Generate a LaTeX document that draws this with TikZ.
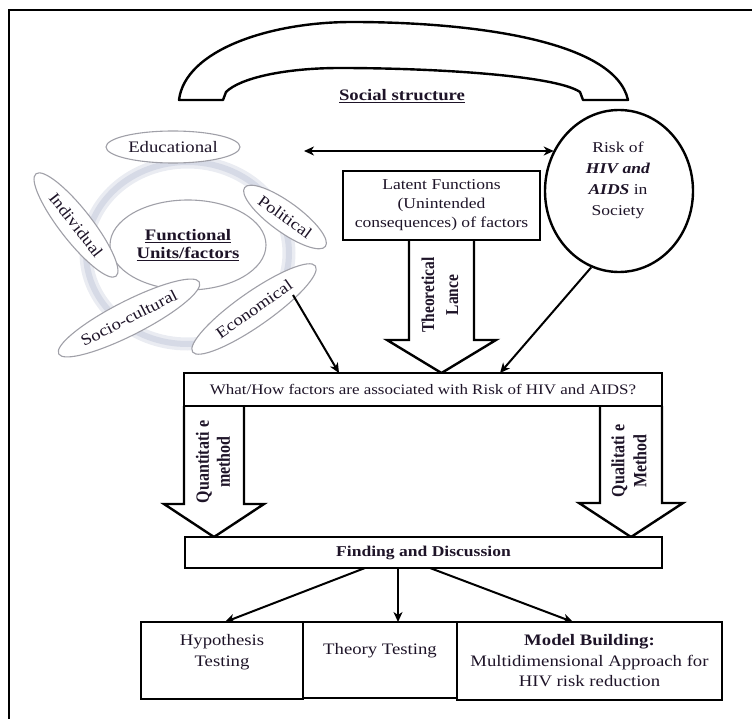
\documentclass[tikz,border=0pt]{standalone}
\usepackage{fontspec}
\setmainfont{Liberation Serif}[FakeStretch=1.17]
\newfontfamily\rotserif{Liberation Serif}
\usetikzlibrary{arrows.meta,shapes.geometric,calc}
\definecolor{ink}{RGB}{30,20,40}
\definecolor{ringblue}{RGB}{214,218,230}
\definecolor{ringhalo}{RGB}{234,236,242}
\definecolor{unitedge}{RGB}{160,160,168}
\pgfdeclarelayer{background}
\pgfsetlayers{background,main}
\newcommand{\tallbold}[1]{\scalebox{1}[1.17]{#1}}
\begin{document}
\begin{tikzpicture}[x=1pt,y=-1pt,
  frame/.style={line width=2.4pt},
  box/.style={draw, line width=2.4pt, fill=white, inner sep=0pt, outer sep=0pt, text=ink, align=center},
  arr/.style={line width=2pt, -{Stealth[length=10pt,width=9pt,inset=3pt]}},
  dblarr/.style={line width=2pt, {Stealth[length=10pt,width=9pt,inset=3pt]}-{Stealth[length=10pt,width=9pt,inset=3pt]}},
  blockarrow/.style={draw, line width=2.4pt, fill=white, line join=miter},
  unit/.style={ellipse, draw=unitedge, line width=1.1pt, fill=white, inner sep=0pt, outer sep=0pt, text=ink, font=\fontsize{16}{18}\selectfont},
  txt/.style={text=ink, inner sep=0pt, align=center},
  vlabel/.style={rotate=90, inner sep=0pt, align=center, text=ink}
]
\useasboundingbox (0,0) rectangle (752,719);

% outer frame
\draw[frame] (9,719) -- (9,10) -- (752,10);

% social structure band
\draw[line width=2.4pt, fill=white, line join=round]
  (179,100) .. controls (185,50) and (270,22) .. (352,22)
  .. controls (470,22) and (615,40) .. (628,100) -- (583,100) -- (580,92)
  .. controls (555,75) and (430,68) .. (340,68)
  .. controls (285,68) and (240,78) .. (226,92) -- (223,100) -- cycle;
\node[text=ink, font=\bfseries\fontsize{16}{18}\selectfont] (social) at (402,96) {\underline{Social structure}};

% ring behind the functional units
\draw[ringhalo, line width=13pt] (187.5,253) ellipse (101.5 and 91);
\draw[ringblue, line width=6pt] (187.5,253) ellipse (101.5 and 91);

% functional units
\node[unit, minimum width=156pt, minimum height=90pt, align=center,
      font=\bfseries\fontsize{16}{18}\selectfont] (core) at (188,245)
      {\underline{Functional}\\\underline{Units/factors}};
\node[unit, minimum width=134pt, minimum height=32pt] (edu) at (173,147) {Educational};
\node[unit, minimum width=130pt, minimum height=32pt, rotate=-52] (indiv) at (76,225) {Individual};
\node[unit, minimum width=100pt, minimum height=30pt, rotate=-36] (pol) at (285,217) {Political};
\node[unit, minimum width=158pt, minimum height=34pt, rotate=27] (socio) at (129,318) {Socio-cultural};
\node[unit, minimum width=150pt, minimum height=34pt, rotate=35] (econ) at (254,309) {Economical};

% risk circle
\node[ellipse, draw, line width=2.4pt, fill=white, minimum width=148pt, minimum height=162pt, inner sep=0pt] (risk) at (619,191) {};
\node[txt, font=\fontsize{15}{21}\selectfont] (risk-t) at (618,180)
  {Risk of\\\textbf{\textit{HIV and}}\\\textbf{\textit{AIDS}} in\\Society};

% boxes
\node[box, minimum width=197pt, minimum height=69pt, font=\fontsize{15}{19}\selectfont] (latent) at (441.5,205.5)
  {Latent Functions\\(Unintended\\consequences) of factors};
\node[box, minimum width=478pt, minimum height=33pt, font=\fontsize{14.5}{17}\selectfont] (what) at (423,389.5)
  {What/How factors are associated with Risk of HIV and AIDS?};
\node[box, minimum width=477pt, minimum height=31pt, font=\bfseries\fontsize{15}{18}\selectfont] (finding) at (423.5,552.5)
  {Finding and Discussion};
\node[box, minimum width=162pt, minimum height=77pt] (hyp) at (222,660.5) {};
\node[box, minimum width=154pt, minimum height=76pt] (theory) at (380,660) {};
\node[box, minimum width=265pt, minimum height=78pt] (model) at (589.5,661) {};

\node[txt, font=\fontsize{16}{21}\selectfont] (hyp-t) at (222,652) {Hypothesis\\Testing};
\node[txt, font=\fontsize{16}{20}\selectfont] (theory-t) at (380,651) {Theory Testing};
\node[txt, font=\fontsize{16}{20.5}\selectfont] (model-t) at (589.5,661)
  {\textbf{Model Building:}\\Multidimensional Approach for\\HIV risk reduction};

% block arrows, kept under the boxes they join
\begin{pgfonlayer}{background}
\draw[blockarrow] ($(latent.south)+(-32.5,0)$) -- ++(0,100) -- ++(-22,0) -- ++(54.5,33)
  -- ++(54.5,-33) -- ++(-22,0) -- ++(0,-100);
\draw[blockarrow] (what.south west) -- ++(0,98) -- ++(-20,0) -- ++(50,33)
  -- ++(50,-33) -- ++(-20,0) -- ++(0,-98);
\draw[blockarrow] (what.south east) -- ++(0,97) -- ++(21,0) -- ++(-52,34)
  -- ++(-52,-34) -- ++(21,0) -- ++(0,-97);
\end{pgfonlayer}

\node[vlabel, font=\rotserif\bfseries\fontsize{15.5}{24}\selectfont] (lance-t) at (440,295)
  {\tallbold{Theoretical}\\\tallbold{Lance}};
\node[vlabel, font=\rotserif\bfseries\fontsize{16}{21}\selectfont] (quant-t) at (213,462)
  {\tallbold{Quantitati e}\\\tallbold{method}};
\node[vlabel, font=\rotserif\bfseries\fontsize{16}{22}\selectfont] (qual-t) at (629,461)
  {\tallbold{Qualitati e}\\\tallbold{Method}};

% connectors
\coordinate (sys-left) at (304,151);
\draw[dblarr] (sys-left) -- (sys-left -| risk.148);
\draw[arr] ($(econ.center)+(39,-14)$) -- ($(what.north west)+(155,0)$);
\draw[arr] (risk.250) -- ($(what.north west)+(316,0)$);
\draw[arr] ($(finding.south)+(-58.5,0)$) -- ($(hyp.north)+(3,0)$);
\draw[arr] ($(finding.south)+(-25.5,0)$) -- ($(theory.north)+(18,0)$);
\draw[arr] ($(finding.south)+(6.5,0)$) -- ($(model.north)+(-16.5,0)$);
\end{tikzpicture}
\end{document}
